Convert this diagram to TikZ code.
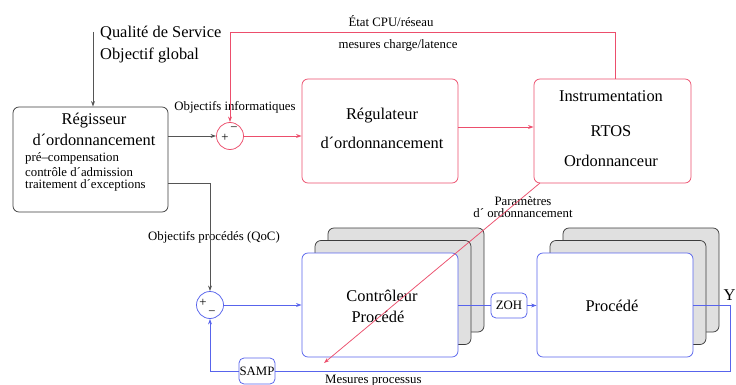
\documentclass[tikz,border=0pt]{standalone}
\usepackage{fontspec}
\setmainfont{Liberation Serif}
\usetikzlibrary{arrows.meta,calc}
\definecolor{ctlred}{RGB}{236,78,108}
\definecolor{ctlblue}{RGB}{88,100,236}
\definecolor{boxgray}{RGB}{224,224,224}
\definecolor{edgegray}{RGB}{60,60,60}
\definecolor{wiregray}{RGB}{85,85,85}

\begin{document}
\begin{tikzpicture}[x=1pt,y=-1pt,
  big/.style={font=\fontsize{16.4}{18}\selectfont, inner sep=0pt},
  small/.style={font=\fontsize{12.8}{14}\selectfont, inner sep=0pt},
  blk/.style={draw, rounded corners=6pt, line width=0.75pt, inner sep=0pt},
  redbox/.style={blk, draw=ctlred, fill=white},
  bluebox/.style={blk, draw=ctlblue, fill=white},
  shadowbox/.style={blk, draw=edgegray, fill=boxgray},
  sumnode/.style={circle, draw, line width=0.75pt, inner sep=0pt, minimum size=27pt, fill=white},
  arr/.style={line width=0.75pt, -{Stealth[length=5.5pt,width=3.8pt]}},
  garr/.style={arr, draw=wiregray},
  rarr/.style={arr, draw=ctlred},
  barr/.style={arr, draw=ctlblue},
  bline/.style={line width=0.75pt, draw=ctlblue}
]
\useasboundingbox (0,0) rectangle (736,385);

% global objective
\node[big, anchor=west] (qos) at (100,33) {Qualité de Service};
\node[big, anchor=west] (glob) at (100,55) {Objectif global};
\coordinate (qosin) at (93,32);

% scheduling manager
\node[blk, draw=edgegray, minimum width=155pt, minimum height=105pt] (reg) at (90.5,159.5) {};
\node[big] (regA) at (94,121) {Régisseur};
\node[big] (regB) at (94,140) {d´ordonnancement};
\node[small, anchor=west] (regC) at (25,158) {pré–compensation};
\node[small, anchor=west] (regD) at (25,172) {contrôle d´admission};
\node[small, anchor=west] (regE) at (25,185) {traitement d´exceptions};

% computing loop
\node[sumnode, draw=ctlred] (s1) at (230,136) {};
\node[small] (s1p) at (225,138) {+};
\node[small] (s1m) at (234,129) {−};
\node[redbox, minimum width=156pt, minimum height=104pt] (regul) at (380,131) {};
\node[big] (regulA) at (382,116) {Régulateur};
\node[big] (regulB) at (382,143) {d´ordonnancement};
\node[redbox, minimum width=157pt, minimum height=104pt] (instr) at (612.5,131) {};
\node[big] (instrA) at (611,96) {Instrumentation};
\node[big] (instrB) at (611,131) {RTOS};
\node[big] (instrC) at (611,161) {Ordonnanceur};

% control loop boxes with stacked copies
\node[shadowbox, minimum width=156pt, minimum height=104pt] (ctrlS2) at (406,280) {};
\node[shadowbox, minimum width=156pt, minimum height=104pt] (ctrlS1) at (393,292.5) {};
\node[bluebox, minimum width=156pt, minimum height=104pt] (ctrl) at (380,305) {};
\node[big] (ctrlA) at (382,296) {Contrôleur};
\node[big] (ctrlB) at (378,317) {Procédé};
\node[shadowbox, minimum width=156pt, minimum height=104pt] (procS2) at (641,280) {};
\node[shadowbox, minimum width=156pt, minimum height=104pt] (procS1) at (628,292.5) {};
\node[bluebox, minimum width=156pt, minimum height=104pt] (proc) at (615,305) {};
\node[big] (procA) at (612,306) {Procédé};
\node[bluebox, minimum width=36pt, minimum height=25pt, rounded corners=5pt, font=\fontsize{12.8}{14}\selectfont] (zoh) at (509,305.5) {ZOH};
\node[bluebox, minimum width=36pt, minimum height=26pt, rounded corners=5pt, font=\fontsize{12.8}{14}\selectfont] (samp) at (257,371) {SAMP};
\node[sumnode, draw=ctlblue] (s2) at (210,305) {};
\node[small] (s2p) at (203,303) {+};
\node[small] (s2m) at (212,313) {−};

% labels
\node[small] (lobj) at (235,107) {Objectifs informatiques};
\node[small] (letat) at (391,21) {État CPU/réseau};
\node[small] (lmes) at (398,45) {mesures charge/latence};
\node[small] (lqoc) at (214,237) {Objectifs procédés (QoC)};
\node[small] (lparA) at (523,201) {Paramètres};
\node[small] (lparB) at (523,213) {d´ ordonnancement};
\node[small, anchor=base west] (lproc) at (325,383) {Mesures processus};
\node[big] (ylab) at (729.5,295) {Y};

% connector points
\coordinate (fbA) at (615,32);
\coordinate (fbB) at (230,32);
\coordinate (cA) at (0,127);
\coordinate (qA) at (210,183);
\coordinate (pA) at (540,183);
\coordinate (pB) at (324,363);
\coordinate (yout) at (730,305);
\coordinate (ycorner) at (730,371);

% gray connectors
\draw[garr] (qosin) -- (reg.north -| qosin);
\draw[garr] (reg.east |- s1) -- (s1.west);
\draw[garr] (reg.east |- qA) -- (qA) -- (s2.north);

% red connectors
\draw[rarr] (s1.east) -- (regul.west |- s1);
\draw[rarr] (regul.east |- cA) -- (instr.west |- cA);
\draw[rarr] (instr.north -| fbA) -- (fbA) -- (fbB) -- (s1.north);

% blue connectors
\draw[barr] (s2.east) -- (ctrl.west |- s2);
\draw[bline] (ctrl.east |- zoh) -- (zoh.west);
\draw[barr] (zoh.east) -- (proc.west |- zoh);
\draw[bline] (proc.east) -- (yout) -- (ycorner) -- (samp.east);
\draw[barr] (samp.west) -- (s2.south |- samp) -- (s2.south);

% scheduling parameters
\draw[rarr] (pA) -- (pB);
\end{tikzpicture}
\end{document}
